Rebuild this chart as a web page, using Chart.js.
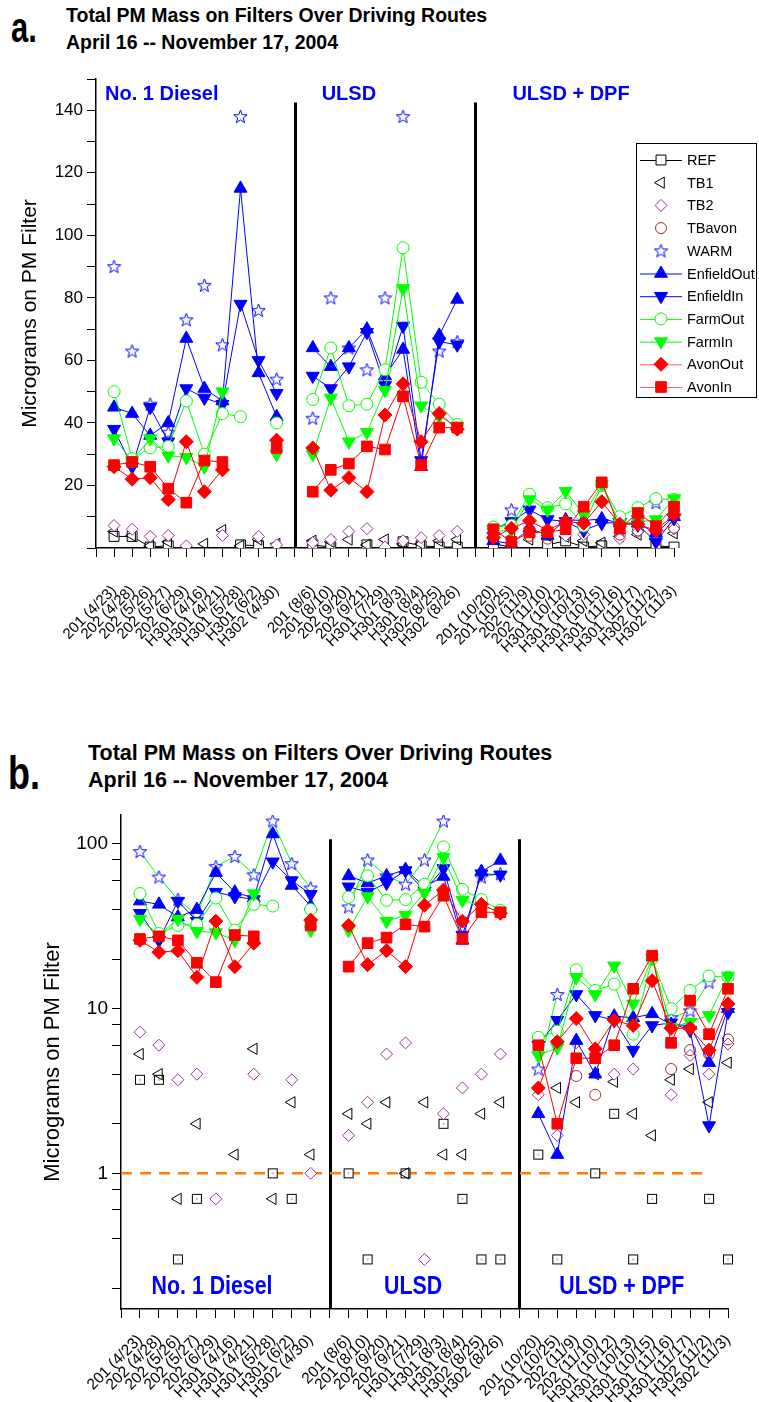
<!DOCTYPE html>
<html>
<head>
<meta charset="utf-8">
<script src="https://cdn.jsdelivr.net/npm/chart.js@4.4.1/dist/chart.umd.min.js"></script>
<style>
  body { margin: 0; width: 759px; height: 1402px; background: #fff; position: relative; overflow: hidden;
         font-family: 'Liberation Sans', Arial, sans-serif; color: #000; }
  .tag { position: absolute; font-weight: bold; transform-origin: left top; }
  .ttl { position: absolute; font-weight: bold; white-space: nowrap; }
  .ta { font-size: 19.5px; line-height: 20px; }
  .tb { font-size: 21.5px; line-height: 22px; }
  #boxA { position: absolute; left: 0; top: 0; }
  #boxB { position: absolute; left: 0; top: 730px; }
</style>
</head>
<body>
<div class="tag" style="left:11px;top:7px;font-size:31px;line-height:31px;transform:scaleY(1.35)">a.</div>
<div class="ttl ta" style="left:66px;top:5px">Total PM Mass on Filters Over Driving Routes</div>
<div class="ttl ta" style="left:66px;top:32px">April 16 -- November 17, 2004</div>

<div class="tag" style="left:8px;top:750px;font-size:36px;line-height:36px;transform:scaleY(1.3)">b.</div>
<div class="ttl tb" style="left:88px;top:742px">Total PM Mass on Filters Over Driving Routes</div>
<div class="ttl tb" style="left:88px;top:769px">April 16 -- November 17, 2004</div>

<canvas id="boxA" width="759" height="720"></canvas>
<canvas id="boxB" width="759" height="672"></canvas>

<script>
// x categories: empty slots 0, 11 and 21 hold the axis start and the two fuel separators
const routeLabels = ['',
  '201 (4/23)', '202 (4/28)', '202 (5/26)', '202 (5/27)', '202 (6/29)',
  'H301 (4/16)', 'H301 (4/21)', 'H301 (5/28)', 'H301 (6/2)', 'H302 (4/30)', '',
  '201 (8/6)', '201 (8/10)', '202 (9/20)', '202 (9/21)', 'H301 (7/29)',
  'H301 (8/3)', 'H301 (8/4)', 'H302 (8/25)', 'H302 (8/26)', '',
  '201 (10/20)', '201 (10/25)', '202 (11/9)', '202 (11/10)', 'H301 (10/12)', 'H301 (10/13)',
  'H301 (10/15)', 'H301 (11/16)', 'H301 (11/17)', 'H302 (11/2)', 'H302 (11/3)'];

const fuelNames = ['No. 1 Diesel', 'ULSD', 'ULSD + DPF'];

// micrograms on filter, one entry per category slot
const refData     = [null, 3.7, 3.7, 0.3, 0.7, null, null, null, 1.0, 0.7, null, null,
                     1.0, 0.3, null, 1.0, null, 2.0, 0.7, 0.3, 0.3, null,
                     1.3, 0.3, null, 1.0, 2.3, 0.3, 0.7, null, null, 0.7, 0.3];
const tb1Data     = [null, 5.3, 4.0, 0.7, 2.0, null, 1.3, 5.7, 0.7, 2.7, 1.3, null,
                     2.3, 2.0, 2.7, 1.0, 2.7, 1.3, 1.3, 2.3, 2.7, null,
                     null, 3.3, 2.7, 4.0, 3.6, 2.3, 1.7, 3.7, 4.3, 2.7, 4.7];
const tb2Data     = [null, 7.2, 6.0, 3.7, 4.0, 0.7, null, 4.0, null, 3.7, 1.0, null,
                     1.7, 2.7, 5.3, 6.2, 0.3, 2.3, 3.3, 4.0, 5.3, null,
                     3.0, 1.7, 6.2, 5.0, 4.0, 4.3, null, 3.0, 5.2, 4.0, 6.1];
const tbAvonData  = [null, null, null, null, null, null, null, null, null, null, null, null,
                     null, null, null, null, null, null, null, null, null, null,
                     null, null, 3.9, 3.0, null, null, null, 4.3, 5.6, 5.3, 6.5];
const warmData    = [null, 90, 63, 46, 37, 73, 84, 65, 138, 76, 54, null,
                     41.5, 80, 64, 57, 80, 138, null, 63, 66, null,
                     4.3, 12.2, null, null, null, null, null, 8.8, 9.7, 14.5, null];
const enfOutData  = [null, 45, 43, 36, 40, 67, 51, 47, 115, 56, 42, null,
                     64, 58, 64, 70, 55, 63.5, 26, 68, 79.5, null,
                     2.3, 1.3, 6.4, 4.0, 9.0, 8.8, 9.3, 8.0, 7.9, 4.7, 10];
const enfInData   = [null, 38, 26, 45, 34, 51, 48, 46, 78, 60, 49.5, null,
                     55, 51, 58, 69, 52, 71, 28, 66, 65, null,
                     6.0, 8.5, 12.2, 9.1, 8.5, 5.6, 7.9, 8.2, 7.4, 1.95, 9.5];
const farmOutData = [null, 50, 28.6, 32, 32.5, 47, 30, 43, 42, null, 40, null,
                     47.5, 64, 45.5, 46, 57, 96, 53, 46, 39.5, null,
                     6.7, 7.3, 17.2, 12.9, 14.1, 7.0, 20, 10, 12.9, 15.8, 15.5];
const farmInData  = [null, 35, 28, 35, 29.5, 29, 26, 50, null, null, 30, null,
                     30, 48, 34, 37, 50.5, 83, 45.5, 42, 39, null,
                     5.2, 5.8, 15.5, 12.2, 18.2, 10.7, 20.3, 7.7, 8.3, 9.1, 15.8];
const avonOutData = [null, 26, 22, 22.5, 15.5, 34, 18, 25, null, null, 34.5, null,
                     32, 18.5, 22.5, 18, 42.5, 52.5, 34, 43, 38, null,
                     3.3, 6.3, 8.7, 5.7, 8.5, 7.9, 14.8, 7.6, 7.6, 5.6, 10.7];
const avonInData  = [null, 26.5, 27.5, 26, 19, 14.5, 28, 27.5, null, null, 32, null,
                     18, 25, 27, 32.5, 31.5, 48.5, 26.5, 38.5, 38.5, null,
                     6.0, 2.0, 5.0, 5.0, 6.0, 13.2, 21, 6.2, 11.2, 7.0, 13.2];

// 1 microgram reference line on the log panel
const unityLine = [{ x: '', y: 1 }, { x: 'H302 (11/2)', y: 1 }];

const FONT = "'Liberation Sans', Arial, sans-serif";
const BLUE = '#0000ff', GREEN = '#00ff00', RED = '#ff0000';

// open 5-point star used for WARM
function starImage(color) {
  const c = document.createElement('canvas');
  c.width = 15; c.height = 15;
  const g = c.getContext('2d');
  g.strokeStyle = color; g.fillStyle = '#fff'; g.lineWidth = 1;
  g.beginPath();
  for (let i = 0; i < 10; i++) {
    const r = i % 2 ? 2.9 : 7;
    const a = -Math.PI / 2 + i * Math.PI / 5;
    g.lineTo(7.5 + r * Math.cos(a), 8 + r * Math.sin(a));
  }
  g.closePath(); g.fill(); g.stroke();
  return c;
}
// open square with a centre dot (REF on the log panel)
function dotBoxImage() {
  const c = document.createElement('canvas');
  c.width = 12; c.height = 12;
  const g = c.getContext('2d');
  g.fillStyle = '#fff'; g.fillRect(1, 1, 10, 10);
  g.strokeStyle = '#000'; g.lineWidth = 1; g.strokeRect(1.5, 1.5, 9, 9);
  g.fillStyle = '#000'; g.fillRect(5.5, 5.5, 1, 1);
  return c;
}
const starImg = starImage(BLUE);
const dotBox = dotBoxImage();

function ds(label, data, color, style, extra) {
  return Object.assign({
    label: label, data: data,
    borderColor: color, backgroundColor: color,
    pointStyle: style, pointRadius: 6, pointRotation: 0,
    pointBorderColor: color, pointBackgroundColor: color, pointBorderWidth: 1,
    borderWidth: 1, showLine: true, spanGaps: false, tension: 0
  }, extra);
}

function buildSets(logPanel) {
  const sets = [
    ds('REF', refData, '#000', logPanel ? dotBox : 'rect', { pointRadius: 7, pointBackgroundColor: '#fff', showLine: !logPanel }),
    ds('TB1', tb1Data, '#000', 'triangle', { pointRotation: 270, pointRadius: 6.5, pointBackgroundColor: 'rgba(255,255,255,0)', showLine: false }),
    ds('TB2', tb2Data, '#993399', 'rectRot', { pointRadius: 6, pointBackgroundColor: '#fff', showLine: false }),
    ds('TBavon', tbAvonData, '#993333', 'circle', { pointRadius: 5.5, pointBackgroundColor: 'rgba(255,255,255,0)', showLine: false }),
    ds('WARM', warmData, BLUE, starImg, { showLine: logPanel, borderColor: GREEN }),
    ds('EnfieldOut', enfOutData, BLUE, 'triangle', { pointRadius: 7.5 }),
    ds('EnfieldIn', enfInData, BLUE, 'triangle', { pointRotation: 180, pointRadius: 7.5 }),
    ds('FarmOut', farmOutData, GREEN, 'circle', { pointRadius: 6, pointBackgroundColor: '#fff' }),
    ds('FarmIn', farmInData, GREEN, 'triangle', { pointRotation: 180, pointRadius: 7.5 }),
    ds('AvonOut', avonOutData, RED, 'rectRot', { pointRadius: 7 }),
    ds('AvonIn', avonInData, RED, 'rect', { pointRadius: 7.5 })
  ];
  sets.forEach((s, i) => { s.order = sets.length - i; });
  if (logPanel) {
    sets.push({ label: '', data: unityLine, borderColor: '#ff8000', borderDash: [11, 8],
                borderWidth: 2.5, pointRadius: 0, order: 50 });
  }
  return sets;
}

// fuel separators and fuel names
const fuelPlugin = {
  id: 'fuel',
  beforeDatasetsDraw(chart, args, o) {
    const { ctx, chartArea } = chart;
    const x = chart.scales.x, y = chart.scales.y;
    ctx.save();
    ctx.strokeStyle = '#000';
    ctx.lineWidth = 3;
    o.separators.forEach(i => {
      const px = Math.round(x.getPixelForValue(i)) + 0.5;
      ctx.beginPath();
      ctx.moveTo(px, y.getPixelForValue(o.sepTop));
      ctx.lineTo(px, chartArea.bottom);
      ctx.stroke();
    });
    ctx.fillStyle = BLUE;
    ctx.font = 'bold ' + o.size + 'px ' + FONT;
    ctx.textAlign = 'center';
    ctx.textBaseline = 'middle';
    fuelNames.forEach((name, k) => {
      ctx.save();
      ctx.translate(x.getPixelForValue(o.at[k]), y.getPixelForValue(o.textAt));
      ctx.scale(o.squeeze, 1);
      ctx.fillText(name, 0, 0);
      ctx.restore();
    });
    ctx.restore();
  }
};

// boxed legend drawn over the upper-right of panel a
const boxLegend = {
  id: 'boxLegend',
  afterDraw(chart, args, o) {
    if (!o.show) return;
    const { ctx } = chart;
    const sets = chart.data.datasets.filter(d => d.label);
    ctx.save();
    ctx.fillStyle = '#fff';
    ctx.fillRect(o.left, o.top, o.width, o.height);
    ctx.strokeStyle = '#000';
    ctx.lineWidth = 1;
    ctx.strokeRect(o.left + 0.5, o.top + 0.5, o.width, o.height);
    sets.forEach((d, i) => {
      const cy = o.top + 17 + i * o.row;
      const cx = o.left + 25;
      if (d.showLine) {
        ctx.strokeStyle = d.label.startsWith('Avon') ? '#ff5a5a' : d.borderColor;
        ctx.lineWidth = 1;
        ctx.beginPath();
        ctx.moveTo(o.left + 4, cy + 0.5);
        ctx.lineTo(o.left + 46, cy + 0.5);
        ctx.stroke();
      }
      if (d.pointStyle instanceof HTMLCanvasElement) {
        ctx.drawImage(d.pointStyle, cx - d.pointStyle.width / 2, cy - d.pointStyle.height / 2);
      } else {
        ctx.fillStyle = d.pointBackgroundColor;
        ctx.strokeStyle = d.pointBorderColor;
        Chart.helpers.drawPoint(ctx, {
          pointStyle: d.pointStyle, rotation: d.pointRotation,
          radius: d.pointRadius, borderWidth: 1
        }, cx, cy);
      }
      ctx.fillStyle = '#000';
      ctx.font = '14.5px ' + FONT;
      ctx.textAlign = 'left';
      ctx.textBaseline = 'middle';
      ctx.fillText(d.label, o.left + 51, cy + 1);
    });
    ctx.restore();
  }
};

function makeChart(canvas, p) {
  const yScale = p.log ? {
    type: 'logarithmic', min: 0.15, max: 150,
    afterBuildTicks: s => { s.ticks = p.tickValues.map(v => ({ value: v })); },
    ticks: { callback: v => (v === 1 || v === 10 || v === 100) ? String(v) : '' }
  } : {
    type: 'linear', min: 0, max: 150,
    ticks: { stepSize: 10, callback: v => (v % 20 === 0 && v > 0 && v < 150) ? String(v) : '' }
  };
  Object.assign(yScale.ticks, { color: '#000', padding: 4, font: { family: FONT, size: p.yFont } });
  Object.assign(yScale, {
    grid: { drawOnChartArea: false, drawTicks: true, tickLength: 9, tickColor: '#000', tickWidth: 1 },
    border: { color: '#000', width: 1.5 },
    title: { display: true, text: 'Micrograms on PM Filter', color: '#000',
             font: { family: FONT, size: p.titleFont }, padding: { top: p.titlePad, bottom: 0 } },
    afterFit: s => { s.width = p.yWidth; }
  });

  return new Chart(canvas, {
    type: 'line',
    data: { labels: routeLabels, datasets: buildSets(p.log) },
    options: {
      responsive: false,
      animation: false,
      layout: { padding: { top: p.top, right: p.right, left: 0, bottom: 0 } },
      scales: {
        x: {
          type: 'category', offset: false,
          grid: { drawOnChartArea: false, drawTicks: true, tickLength: 9, tickColor: '#000', tickWidth: 1 },
          border: { color: '#000', width: 1.5 },
          ticks: { autoSkip: false, minRotation: 45, maxRotation: 45, padding: p.xPad, color: '#000',
                   font: { family: FONT, size: p.xFont } },
          afterFit: s => { s.height = p.xHeight; }
        },
        y: yScale
      },
      plugins: {
        legend: { display: false },
        tooltip: { enabled: false },
        fuel: p.fuel,
        boxLegend: p.boxLegend
      }
    },
    plugins: [fuelPlugin, boxLegend]
  });
}

makeChart(document.getElementById('boxA'), {
  log: false, yFont: 17, titleFont: 21, titlePad: 18, yWidth: 96, xFont: 15, xPad: 25,
  top: 79, right: 85, xHeight: 172,
  fuel: { separators: [11, 21], sepTop: 142.5, at: [3.64, 14.0, 26.3], textAt: 145, size: 20, squeeze: 1 },
  boxLegend: { show: true, left: 636, top: 143, width: 120, height: 254, row: 22.7 }
});

makeChart(document.getElementById('boxB'), {
  log: true, tickValues: [0.2, 0.4, 0.6, 0.8, 1, 2, 4, 6, 8, 10, 20, 40, 60, 80, 100],
  yFont: 19, titleFont: 22, titlePad: 40, yWidth: 121, xFont: 15.5, xPad: 13,
  top: 85, right: 31, xHeight: 93,
  fuel: { separators: [11, 21], sepTop: 107, at: [4.8, 15.4, 26.4], textAt: 0.205, size: 26, squeeze: 0.82 },
  boxLegend: { show: false }
});
</script>
</body>
</html>
